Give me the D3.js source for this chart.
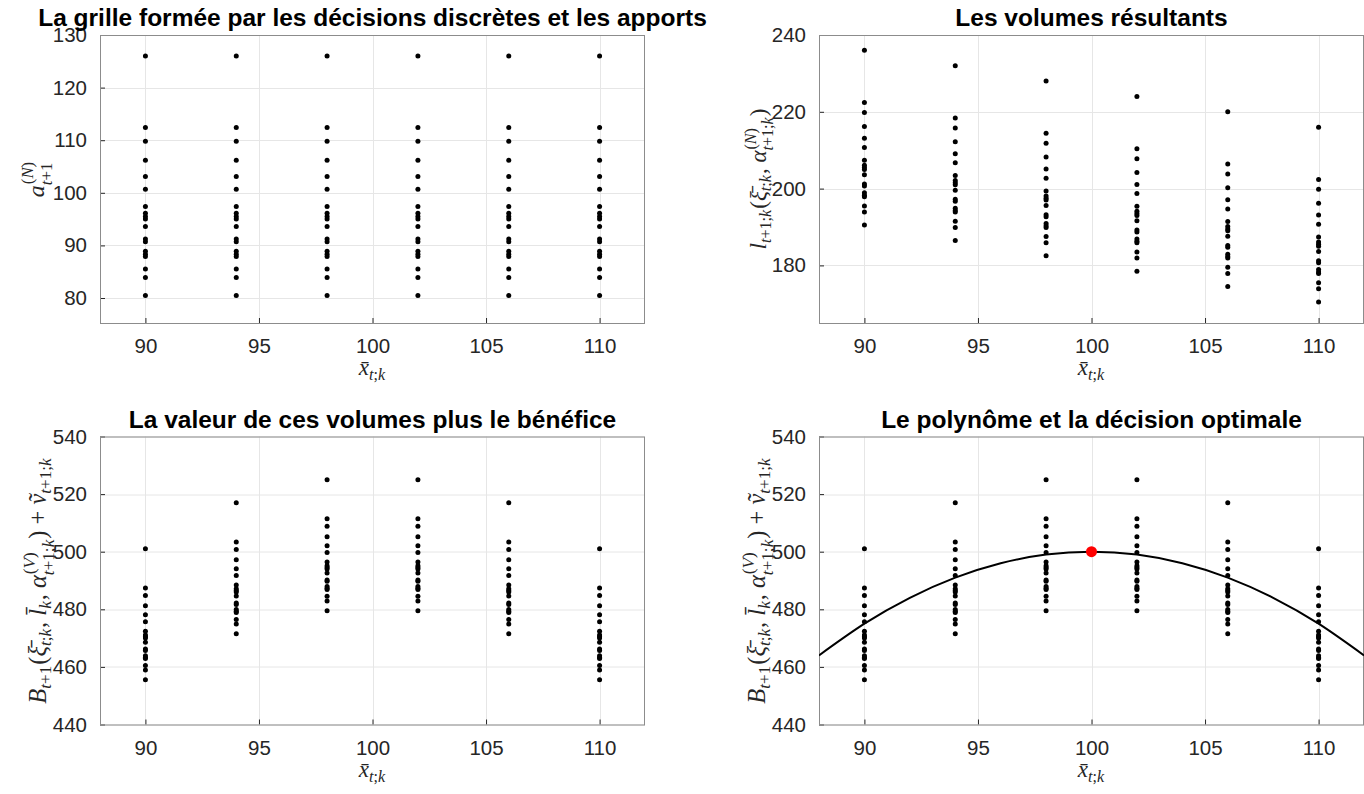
<!DOCTYPE html>
<html>
<head>
<meta charset="utf-8">
<script src="https://cdn.jsdelivr.net/npm/d3@7"></script>
<style>
  body { margin: 0; background: #fff; }
  svg { display: block; }
</style>
</head>
<body>
<svg id="fig" width="1364" height="794"></svg>
<script>
// les décisions discrètes (axe x)
const decisions = [90, 94, 98, 102, 106, 110]
// les apports a_{t+1}^{(N)} (identiques pour chaque décision)
const apports = [126.0, 112.4, 109.8, 106.2, 103.1, 100.7, 97.4, 96.1, 95.5, 95.0, 93.6, 91.2, 90.7, 88.9, 88.3, 87.9, 85.5, 83.9, 80.5]
// volumes résultants, une liste par décision
const volumes = [
  [236.0, 222.4, 219.8, 216.2, 213.1, 210.7, 207.4, 206.1, 205.5, 205.0, 203.6, 201.2, 200.7, 198.9, 198.3, 197.9, 195.5, 193.9, 190.5],
  [232.0, 218.4, 215.8, 212.2, 209.1, 206.7, 203.4, 202.1, 201.5, 201.0, 199.6, 197.2, 196.7, 194.9, 194.3, 193.9, 191.5, 189.9, 186.5],
  [228.0, 214.4, 211.8, 208.2, 205.1, 202.7, 199.4, 198.1, 197.5, 197.0, 195.6, 193.2, 192.7, 190.9, 190.3, 189.9, 187.5, 185.9, 182.5],
  [224.0, 210.4, 207.8, 204.2, 201.1, 198.7, 195.4, 194.1, 193.5, 193.0, 191.6, 189.2, 188.7, 186.9, 186.3, 185.9, 183.5, 181.9, 178.5],
  [220.0, 206.4, 203.8, 200.2, 197.1, 194.7, 191.4, 190.1, 189.5, 189.0, 187.6, 185.2, 184.7, 182.9, 182.3, 181.9, 179.5, 177.9, 174.5],
  [216.0, 202.4, 199.8, 196.2, 193.1, 190.7, 187.4, 186.1, 185.5, 185.0, 183.6, 181.2, 180.7, 178.9, 178.3, 177.9, 175.5, 173.9, 170.5]
]
// valeur des volumes + bénéfice, une liste par décision
const valeurs = [
  [501.0, 487.4, 484.8, 481.2, 478.1, 475.7, 472.4, 471.1, 470.5, 470.0, 468.6, 466.2, 465.7, 463.9, 463.3, 462.9, 460.5, 458.9, 455.5],
  [517.0, 503.4, 500.8, 497.2, 494.1, 491.7, 488.4, 487.1, 486.5, 486.0, 484.6, 482.2, 481.7, 479.9, 479.3, 478.9, 476.5, 474.9, 471.5],
  [525.0, 511.4, 508.8, 505.2, 502.1, 499.7, 496.4, 495.1, 494.5, 494.0, 492.6, 490.2, 489.7, 487.9, 487.3, 486.9, 484.5, 482.9, 479.5],
  [525.0, 511.4, 508.8, 505.2, 502.1, 499.7, 496.4, 495.1, 494.5, 494.0, 492.6, 490.2, 489.7, 487.9, 487.3, 486.9, 484.5, 482.9, 479.5],
  [517.0, 503.4, 500.8, 497.2, 494.1, 491.7, 488.4, 487.1, 486.5, 486.0, 484.6, 482.2, 481.7, 479.9, 479.3, 478.9, 476.5, 474.9, 471.5],
  [501.0, 487.4, 484.8, 481.2, 478.1, 475.7, 472.4, 471.1, 470.5, 470.0, 468.6, 466.2, 465.7, 463.9, 463.3, 462.9, 460.5, 458.9, 455.5]
]
// le polynôme ajusté
const polyX = [88, 90, 92, 94, 96, 98, 100, 102, 104, 106, 108, 110, 112]
const polyY = [464, 475, 484, 491, 496, 499, 500, 499, 496, 491, 484, 475, 464]
// la décision optimale
const optimum = [100, 500]

const xTicks = [90, 95, 100, 105, 110]
const ticksA = [80, 90, 100, 110, 120, 130]
const ticksL = [180, 200, 220, 240]
const ticksB = [440, 460, 480, 500, 520, 540]

const svg = d3.select('#fig')
const W = 545, H = 288
const sansFont = '"Liberation Sans", Arial, Helvetica, sans-serif'
const mathFont = '"Liberation Serif", "DejaVu Serif", serif'

// texte mathématique : lettres en italique, le reste droit
function putRuns(t, str) {
  const re = /([A-Za-z\u03b1-\u03c9][\u0300-\u036f]*)|([^A-Za-z\u03b1-\u03c9]+)/g
  let m
  while ((m = re.exec(str)) !== null) {
    t.append('tspan').attr('font-style', m[1] ? 'italic' : 'normal').text(m[0])
  }
}

function drawMath(parent, tokens, fs) {
  const g = parent.append('g').attr('font-family', mathFont).attr('fill', '#262626')
  let cx = 0
  const put = (str, x, y, size) => {
    const t = g.append('text').attr('x', x).attr('y', y).attr('font-size', size)
    putRuns(t, str)
    return t.node().getComputedTextLength()
  }
  tokens.forEach(tok => {
    if (typeof tok === 'string') {
      cx += put(tok, cx, 0, fs)
    } else {
      let w1 = 0, w2 = 0
      if (tok.sup) w1 = put(tok.sup, cx + 1, -fs * 0.45, fs * 0.7)
      if (tok.sub) w2 = put(tok.sub, cx, fs * (tok.sup ? 0.32 : 0.22), fs * 0.7)
      cx += Math.max(w1 + 1, w2) + 1
    }
  })
  return { g, width: cx }
}

function panel(o) {
  const x = d3.scaleLinear().domain([88, 112]).range([0, W])
  const y = d3.scaleLinear().domain(o.yDomain).range([H, 0])
  const g = svg.append('g').attr('transform', `translate(${o.left},${o.top})`)
  const clipId = 'clip' + o.id
  g.append('clipPath').attr('id', clipId).append('rect').attr('width', W).attr('height', H)

  // grille
  g.append('g').selectAll('line').data(xTicks).join('line')
    .attr('x1', d => Math.round(x(d)) + 0.5).attr('x2', d => Math.round(x(d)) + 0.5)
    .attr('y1', 0).attr('y2', H).attr('stroke', '#e6e6e6')
  g.append('g').selectAll('line').data(o.yTicks).join('line')
    .attr('y1', d => Math.round(y(d)) + 0.5).attr('y2', d => Math.round(y(d)) + 0.5)
    .attr('x1', 0).attr('x2', W).attr('stroke', '#e6e6e6')

  // axes (ticks vers l'intérieur)
  const xAxis = g.append('g').attr('transform', `translate(0,${H})`)
    .call(d3.axisBottom(x).tickValues(xTicks).tickSizeInner(-5).tickSizeOuter(0).tickPadding(13))
  const yAxis = g.append('g')
    .call(d3.axisLeft(y).tickValues(o.yTicks).tickSizeInner(-5).tickSizeOuter(0).tickPadding(13))
  ;[xAxis, yAxis].forEach(a => {
    a.select('.domain').remove()
    a.selectAll('.tick line').attr('stroke', '#262626')
    a.selectAll('.tick text').attr('font-family', sansFont).attr('font-size', 20.5).attr('fill', '#262626')
  })
  xAxis.selectAll('.tick text').attr('dy', '0.85em')

  // cadre
  g.append('rect').attr('x', 0.5).attr('y', 0.5).attr('width', W - 1).attr('height', H)
    .attr('fill', 'none').attr('stroke', '#8c8c8c')

  const plot = g.append('g').attr('clip-path', `url(#${clipId})`)
  plot.selectAll('circle.pt').data(o.points).join('circle').attr('class', 'pt')
    .attr('cx', d => x(d[0])).attr('cy', d => y(d[1])).attr('r', 2.5).attr('fill', '#000')

  if (o.curve) {
    const line = d3.line().x(d => x(d[0])).y(d => y(d[1])).curve(d3.curveNatural)
    plot.append('path').datum(polyX.map((v, i) => [v, polyY[i]]))
      .attr('d', line).attr('fill', 'none').attr('stroke', '#000').attr('stroke-width', 2)
    plot.append('circle').attr('cx', x(optimum[0])).attr('cy', y(optimum[1]))
      .attr('r', 5.5).attr('fill', '#ff0000')
  }

  // titre
  g.append('text').attr('x', W / 2).attr('y', -9).attr('text-anchor', 'middle')
    .attr('font-family', sansFont).attr('font-weight', 'bold').attr('font-size', 24.5)
    .attr('fill', '#000').text(o.title)

  // étiquette x
  const xl = drawMath(g, ['x\u0304', { sub: 't;k' }], 23)
  xl.g.attr('transform', `translate(${W / 2 - xl.width / 2},${H + 52})`)

  // étiquette y
  const yl = drawMath(g, o.ylabel, o.labelSize || 23)
  yl.g.attr('transform', `translate(${o.labelX},${H / 2}) rotate(-90) translate(${-yl.width / 2},0)`)
}

const grille = []
decisions.forEach(d => apports.forEach(a => grille.push([d, a])))
const ptsVol = []
decisions.forEach((d, i) => volumes[i].forEach(v => ptsVol.push([d, v])))
const ptsVal = []
decisions.forEach((d, i) => valeurs[i].forEach(v => ptsVal.push([d, v])))

const labelB = ['B', { sub: 't+1' }, '(\u03be\u0304', { sub: 't;k' }, ', l\u0304', { sub: 'k' }, ', \u03b1', { sub: 't+1;k', sup: '(V)' }, ') + v\u0303', { sub: 't+1;k' }]

panel({ id: 1, left: 100, top: 35, yDomain: [75.25, 130], yTicks: ticksA, points: grille,
  title: 'La grille formée par les décisions discrètes et les apports',
  ylabel: ['a', { sub: 't+1', sup: '(N)' }], labelX: -56, labelSize: 24 })
panel({ id: 2, left: 819, top: 35, yDomain: [165, 240], yTicks: ticksL, points: ptsVol,
  title: 'Les volumes résultants',
  ylabel: ['l', { sub: 't+1;k' }, '(\u03be\u0304', { sub: 't;k' }, ', \u03b1', { sub: 't+1;k', sup: '(N)' }, ')'], labelX: -53 })
panel({ id: 3, left: 100, top: 436.5, yDomain: [440, 540], yTicks: ticksB, points: ptsVal,
  title: 'La valeur de ces volumes plus le bénéfice', ylabel: labelB, labelX: -54, labelSize: 24.5 })
panel({ id: 4, left: 819, top: 436.5, yDomain: [440, 540], yTicks: ticksB, points: ptsVal, curve: true,
  title: 'Le polynôme et la décision optimale', ylabel: labelB, labelX: -54, labelSize: 24.5 })
</script>
</body>
</html>
